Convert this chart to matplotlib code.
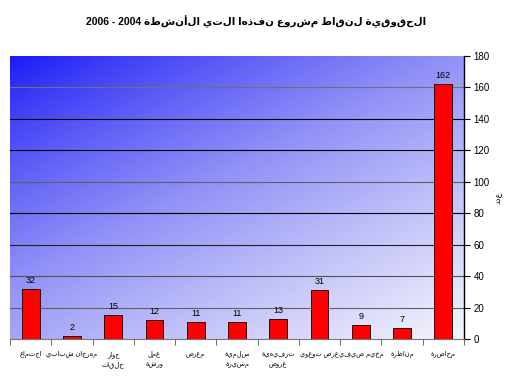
import numpy as np
import matplotlib
matplotlib.use("Agg")
import matplotlib.pyplot as plt
from matplotlib.colors import LinearSegmentedColormap

# ---- data ----
categories = ["اجتماع", "مهرجان شبابي", "حلقات\nحوار", "ورشة\nعمل", "معرض",
              "مسيرة\nسلمية", "عروض\nترفيهية", "عرض توعوي", "مخيم صيفي",
              "مناظرة", "محاضرة"]
values = [32, 2, 15, 12, 11, 11, 13, 31, 9, 7, 162]
title_words = ["الأنشطة", "التي", "نفذها", "مشروع", "لنقاط", "الحقوقية"]
title_years = "2006 - 2004"
ylabel_text = "عدد"
yticks = [0, 20, 40, 60, 80, 100, 120, 140, 160, 180]

fam = ["Liberation Sans", "DejaVu Sans"]
plt.rcParams["font.family"] = fam

def vis(s):
    # visual (left-to-right) order of an Arabic string, unshaped
    return s[::-1]

fig = plt.figure(figsize=(5.12, 3.84), dpi=100)
ax = fig.add_axes([10/512, 1-339/384, 454/512, (339-56)/384])

n = len(values)
x = np.arange(n)
ax.set_xlim(-0.5, n-0.5)
ax.set_ylim(0, 180)

# gradient background: dark blue top-left -> near white bottom-right
gx, gy = np.meshgrid(np.linspace(0, 1, 300), np.linspace(0, 1, 200))
g = (gx*0.45 + gy*0.55)
g = g**0.85
cmap = LinearSegmentedColormap.from_list("bg", [(0.10, 0.10, 0.97), (0.57, 0.57, 0.97), (0.96, 0.96, 0.99)])
ax.imshow(g, cmap=cmap, extent=(-0.5, n-0.5, 0, 180), aspect="auto", origin="upper", zorder=0)

grid_colors = {20: "#606060", 40: "#505050", 60: "#202020", 80: "black",
               100: "#606060", 120: "black", 140: "black", 160: "#707070"}
for t in yticks[1:-1]:
    ax.axhline(t, color=grid_colors[t], lw=0.8, zorder=1)

ax.bar(x, values, width=0.43, color="#ff0000", edgecolor="black", linewidth=0.6, zorder=3)
for xi, v in zip(x, values):
    ax.text(xi, v + 2.5, str(v), ha="center", va="bottom", fontsize=6.5, zorder=4)

ax.yaxis.tick_right()
ax.yaxis.set_label_position("right")
ax.set_yticks(yticks)
ax.tick_params(axis="y", direction="out", length=4, labelsize=7, width=0.8, pad=3)
ax.set_ylabel(vis(ylabel_text), family=fam, fontsize=6, labelpad=4, rotation=90)

ax.set_xticks(x)
ax.set_xticklabels([vis(c) for c in categories], fontsize=4.8, family=fam, linespacing=1.5)
ax.tick_params(axis="x", length=0, pad=9)
ax.set_xticks(np.arange(-0.5, n, 1.0), minor=True)
ax.tick_params(axis="x", which="minor", length=4, color="#555555", direction="out")

for s in ["top", "left"]:
    ax.spines[s].set_visible(False)
ax.spines["bottom"].set_color("#777777")
ax.spines["bottom"].set_linewidth(0.8)
ax.spines["right"].set_color("black")
ax.spines["right"].set_linewidth(1.0)

title = title_years + " " + " ".join(vis(w) for w in title_words)
fig.text(0.5, 1-22/384, title, ha="center", va="center", fontsize=7.5, fontweight="bold", family=fam)

fig.savefig("out.png", dpi=100)
